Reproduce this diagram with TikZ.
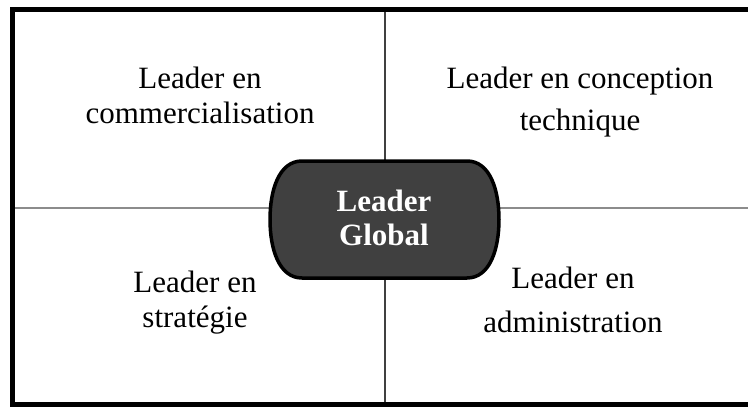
\documentclass[tikz,border=0pt]{standalone}
\usepackage{fontspec}
\setmainfont{Liberation Serif}
\begin{document}
\begin{tikzpicture}[x=1pt,y=-1pt,
  cell/.style={align=center,inner sep=0pt,text=black},
  centre/.style={align=center,inner sep=0pt,text=white,font=\bfseries\fontsize{31}{34}\selectfont},
  frame/.style={line width=5pt,draw=black},
  vline/.style={line width=1.5pt,draw=black!75},
  hline/.style={line width=2.5pt,draw=black!45},
  pill/.style={line width=3.5pt,draw=black,fill=black!75}]
\useasboundingbox (0,0) rectangle (748,407);
% quadrant dividers
\coordinate (top) at (385,9.5);
\coordinate (bot) at (385,404.5);
\coordinate (lft) at (12,208);
\coordinate (rgt) at (750,208);
\draw[hline] (lft) -- (rgt);
\draw[vline] (top) -- (bot);
% outer frame
\draw[frame] (12,9.5) rectangle (750,404.5);
% central pill
\draw[pill] (302,161) -- (467,161)
  .. controls (490,161) and (499,190) .. (499,219.5)
  .. controls (499,249) and (490,278) .. (467,278)
  -- (302,278)
  .. controls (279,278) and (270,249) .. (270,219.5)
  .. controls (270,190) and (279,161) .. (302,161) -- cycle;
\node[centre] (g) at (384,217.5) {Leader\\Global};
% quadrant labels
\node[cell,font=\fontsize{31}{35}\selectfont] (tl) at (200,95) {Leader en\\commercialisation};
\node[cell,font=\fontsize{31}{42}\selectfont] (tr) at (580,101.8) {Leader en conception\\technique};
\node[cell,font=\fontsize{31}{35}\selectfont] (bl) at (195,302.3) {Leader en\\stratégie};
\node[cell,font=\fontsize{31}{44}\selectfont] (br) at (573,299.5) {Leader en\\administration};
\end{tikzpicture}
\end{document}
